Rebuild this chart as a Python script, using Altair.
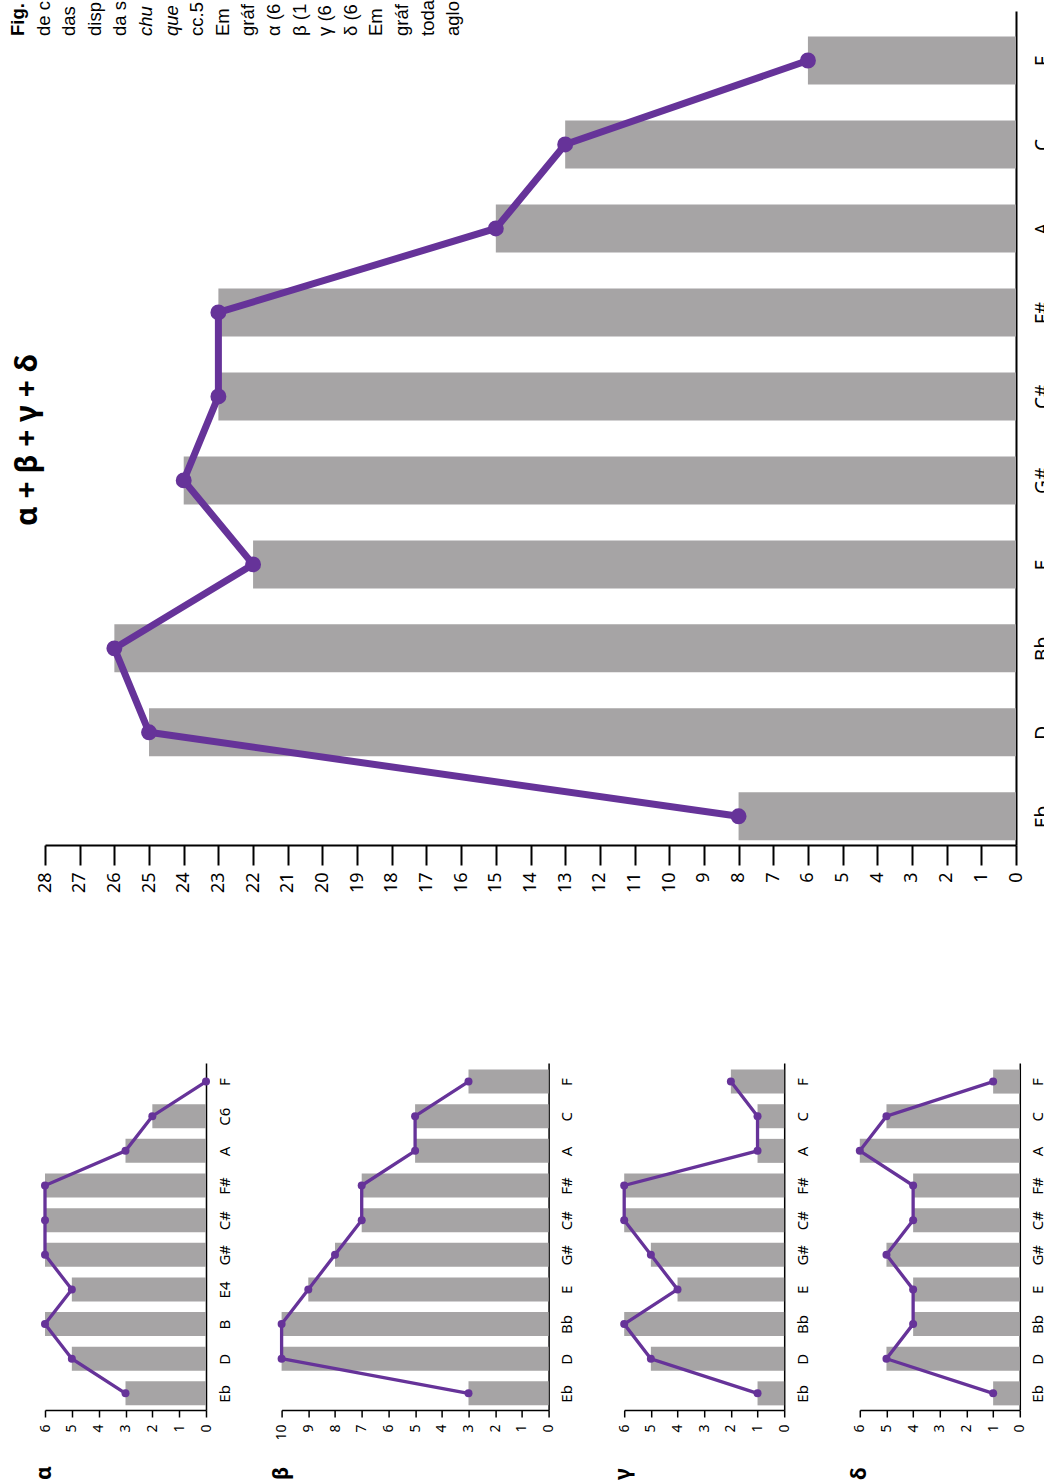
import json
import altair as alt
import pandas as pd

# ---------------- data ----------------
CATS_SUM = ["Eb", "D", "Bb", "E", "G#", "C#", "F#", "A", "C", "F"]
CATS_ALPHA = ["Eb", "D", "B", "E4", "G#", "C#", "F#", "A", "C6", "F"]
ALPHA = [3, 5, 6, 5, 6, 6, 6, 3, 2, 0]
BETA = [3, 10, 10, 9, 8, 7, 7, 5, 5, 3]
GAMMA = [1, 5, 6, 4, 5, 6, 6, 1, 1, 2]
DELTA = [1, 5, 4, 4, 5, 4, 4, 6, 5, 1]
TOTAL = [8, 25, 26, 22, 24, 23, 23, 15, 13, 6]

BIG_TITLE = "α + β + γ + δ"
PANEL_TITLES = ["α", "β", "γ", "δ"]

CAPTION = ["Fig.", "de c", "das", "disp", "da s", "chu", "que", "cc.5", "Em ",
           "gráf", "α (6", "β (1", "γ (6", "δ (6", "Em ", "gráf", "toda", "aglo"]
CAPTION_STYLE = ["bold", "normal", "normal", "normal", "normal", "italic", "italic",
                 "normal", "normal", "normal", "normal", "normal", "normal", "normal",
                 "normal", "normal", "normal", "normal"]

PURPLE = "#663399"
GRAY = "#a6a4a5"
FONT = "Noto Sans"
CAP_FONT = "Liberation Sans"


def panel(cats, vals, vmax, w, h, lo, hi, bar, pt, lw, lab, tick, xpad,
          cat_lab, cat_pad, dom_w):
    df = pd.DataFrame({"i": list(range(len(cats))), "cat": cats, "v": vals})
    xs = alt.Scale(domain=[0, vmax], reverse=True, nice=False, zero=True)
    ys = alt.Scale(domain=[lo, hi], nice=False, zero=False)
    xaxis = alt.Axis(orient="bottom", values=list(range(vmax + 1)), format="d",
                     labelAngle=270, labelAlign="right", labelBaseline="middle",
                     labelFlush=False, labelOverlap=False, tickSize=tick,
                     tickWidth=dom_w, tickColor="black", domainColor="black",
                     domainWidth=dom_w, labelPadding=xpad, labelFontSize=lab,
                     labelFont=FONT, labelColor="black", grid=False, title=None)
    yaxis = alt.Axis(orient="right", values=list(range(len(cats))),
                     labelExpr=json.dumps(cats) + "[datum.value]",
                     labelAngle=270, labelAlign="center", labelBaseline="top",
                     labelFlush=False, labelOverlap=False, ticks=False, tickSize=0,
                     domainColor="black", domainWidth=dom_w, labelPadding=cat_pad,
                     labelFontSize=cat_lab, labelFont=FONT, labelColor="black",
                     grid=False, title=None)
    X = alt.X("v:Q", scale=xs, axis=xaxis)
    Y = alt.Y("i:Q", scale=ys, axis=yaxis)
    base = alt.Chart(df)
    bars = base.mark_bar(orient="horizontal", size=bar, color=GRAY).encode(x=X, y=Y)
    line = base.mark_line(color=PURPLE, strokeWidth=lw).encode(
        x=X, y=Y, order=alt.Order("i:Q"))
    pts = base.mark_circle(size=pt, color=PURPLE, opacity=1).encode(x=X, y=Y)
    return alt.layer(bars, line, pts)


# ---------------- big chart ----------------
big_core = panel(CATS_SUM, TOTAL, 28, 971, 834, -0.282, 9.53,
                 48, 254, 7, 18, 20, 7, 19, 17, 2)

cap_df = pd.DataFrame({"i": list(range(len(CAPTION))), "t": CAPTION,
                       "style": CAPTION_STYLE})
cap_scale = alt.Scale(domain=[0, 17], range=[-27, 408.2])
cap_layers = []
for style, weight, fstyle in [("bold", "bold", "normal"),
                              ("italic", "normal", "italic"),
                              ("normal", "normal", "normal")]:
    cap_layers.append(
        alt.Chart(cap_df).transform_filter(alt.datum.style == style).mark_text(
            angle=270, align="left", baseline="middle", fontSize=18.5,
            font=CAP_FONT, fontWeight=weight, fontStyle=fstyle, color="black"
        ).encode(x=alt.X("i:Q", scale=cap_scale, axis=None),
                 y=alt.value(25), text="t:N"))

title_layer = alt.Chart(pd.DataFrame({"t": [BIG_TITLE]})).mark_text(
    angle=270, align="center", baseline="bottom", fontSize=30,
    fontWeight="bold", font=FONT, color="black"
).encode(x=alt.value(-2), y=alt.value(429), text="t:N")

annot = alt.layer(*cap_layers, title_layer)

big = alt.layer(big_core, annot).resolve_scale(x="independent").properties(
    width=971, height=834)


# ---------------- small panels ----------------
def small(cats, vals, vmax, w, name):
    p = panel(cats, vals, vmax, w, 347, -0.336, 9.392,
              24, 64, 3.3, 14, 7, 7, 15, 11, 1.5)
    t = alt.Chart(pd.DataFrame({"t": [name]})).mark_text(
        angle=270, align="left", baseline="middle", fontSize=21,
        fontWeight="bold", font=FONT, color="black"
    ).encode(x=alt.value(0), y=alt.value(417), text="t:N")
    return alt.layer(p, t).properties(width=w, height=347)


pa = small(CATS_ALPHA, ALPHA, 6, 161, PANEL_TITLES[0])
pb = small(CATS_SUM, BETA, 10, 267, PANEL_TITLES[1])
pg = small(CATS_SUM, GAMMA, 6, 160, PANEL_TITLES[2])
pdl = small(CATS_SUM, DELTA, 6, 160, PANEL_TITLES[3])

row = alt.hconcat(pa, pb, pg, pdl, spacing=75.6, bounds="flush")

chart = alt.vconcat(big, row, spacing=218, bounds="flush").properties(
    autosize=alt.AutoSizeParams(type="none"),
    padding={"left": 45, "top": 11, "right": 999, "bottom": 1471},
    background="white",
).configure_view(stroke=None)

chart.save("out.html", embed_options={"renderer": "svg", "actions": False})
